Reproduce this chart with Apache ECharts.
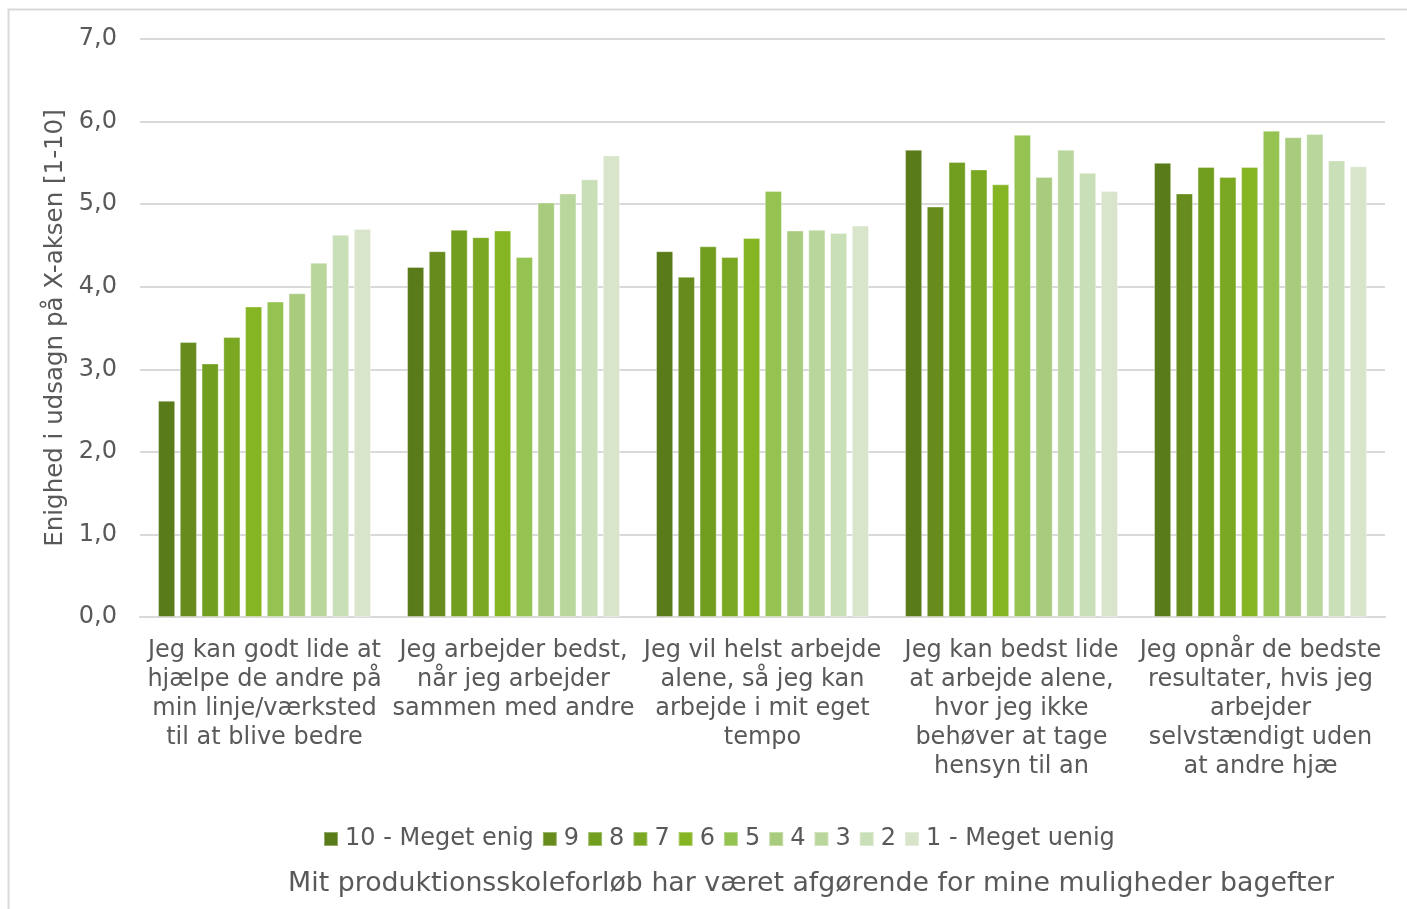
<!DOCTYPE html>
<html>
<head>
<meta charset="utf-8">
<script src="https://cdn.jsdelivr.net/npm/echarts@6/dist/echarts.min.js"></script>
<style>
html,body{margin:0;padding:0;background:#fff;}
#c{width:1407px;height:909px;}
</style>
</head>
<body>
<div id="c"></div>
<script>
const categories = [
  "Jeg kan godt lide at\nhjælpe de andre på\nmin linje/værksted\ntil at blive bedre",
  "Jeg arbejder bedst,\nnår jeg arbejder\nsammen med andre",
  "Jeg vil helst arbejde\nalene, så jeg kan\narbejde i mit eget\ntempo",
  "Jeg kan bedst lide\nat arbejde alene,\nhvor jeg ikke\nbehøver at tage\nhensyn til an",
  "Jeg opnår de bedste\nresultater, hvis jeg\narbejder\nselvstændigt uden\nat andre hjæ"
];
const seriesNames = ["10 - Meget enig","9","8","7","6","5","4","3","2","1 - Meget uenig"];
const colors = ["#5a7b1a","#678b1d","#729e1f","#7aa822","#86b524","#94c352","#a8cb7d","#b9d69c","#c9dfb7","#d8e5cb"];
const s10 = [2.62, 4.24, 4.43, 5.66, 5.50];
const s9  = [3.33, 4.43, 4.12, 4.97, 5.13];
const s8  = [3.07, 4.69, 4.49, 5.51, 5.45];
const s7  = [3.39, 4.60, 4.36, 5.42, 5.33];
const s6  = [3.76, 4.68, 4.59, 5.24, 5.45];
const s5  = [3.82, 4.36, 5.16, 5.84, 5.89];
const s4  = [3.92, 5.02, 4.68, 5.33, 5.81];
const s3  = [4.29, 5.13, 4.69, 5.66, 5.85];
const s2  = [4.63, 5.30, 4.65, 5.38, 5.53];
const s1  = [4.70, 5.59, 4.74, 5.16, 5.46];
const seriesValues = [s10, s9, s8, s7, s6, s5, s4, s3, s2, s1];
const yTicks = ["0,0","1,0","2,0","3,0","4,0","5,0","6,0","7,0"];
const yAxisTitle = "Enighed i udsagn på X-aksen [1-10]";
const xAxisTitle = "Mit produktionsskoleforløb har været afgørende for mine muligheder bagefter";

const FONT = "DejaVu Sans";
const TXT = "#595959";

const chart = echarts.init(document.getElementById('c'), null, {renderer:'canvas'});
chart.setOption({
  animation: false,
  backgroundColor: '#fff',
  textStyle: {fontFamily: FONT},
  color: colors,
  grid: {left: 140, right: 22, top: 39, bottom: 292},
  legend: {
    data: seriesNames,
    left: 318, top: 822,
    itemWidth: 14, itemHeight: 14, itemGap: 8,
    icon: 'rect',
    textStyle: {fontFamily: FONT, fontSize: 24, color: TXT, padding: [0,0,0,2]}
  },
  xAxis: {
    type: 'category',
    data: categories,
    axisLine: {lineStyle: {color: '#d9d9d9', width: 2}},
    axisTick: {show: false},
    axisLabel: {interval: 0, color: TXT, fontFamily: FONT, fontSize: 24, lineHeight: 29, margin: 19}
  },
  yAxis: {
    type: 'value',
    min: 0, max: 7, interval: 1,
    name: yAxisTitle,
    nameLocation: 'middle',
    nameGap: 70,
    nameTextStyle: {color: TXT, fontFamily: FONT, fontSize: 24.5},
    axisLine: {show: false},
    axisTick: {show: false},
    splitLine: {lineStyle: {color: '#d9d9d9', width: 2}},
    axisLabel: {color: TXT, fontFamily: FONT, fontSize: 24, margin: 23,
      formatter: function(v){ return yTicks[Math.round(v)]; }}
  },
  series: seriesNames.map(function(n, i){
    return {
      name: n, type: 'bar',
      data: seriesValues[i],
      barGap: '27%', barCategoryGap: '14.5%',
      itemStyle: {color: colors[i], borderColor: 'rgba(255,255,255,0.35)', borderWidth: 1}
    };
  }),
  graphic: [
    {type: 'rect', shape: {x: 8.5, y: 9.5, width: 1500, height: 1000}, style: {fill: 'none', stroke: '#d9d9d9', lineWidth: 2}, silent: true, z: -1},
    {type: 'text', style: {x: 811, y: 884, text: xAxisTitle, fill: TXT, font: '26.8px "DejaVu Sans"', textAlign: 'center', textVerticalAlign: 'middle'}}
  ]
});
</script>
</body>
</html>
